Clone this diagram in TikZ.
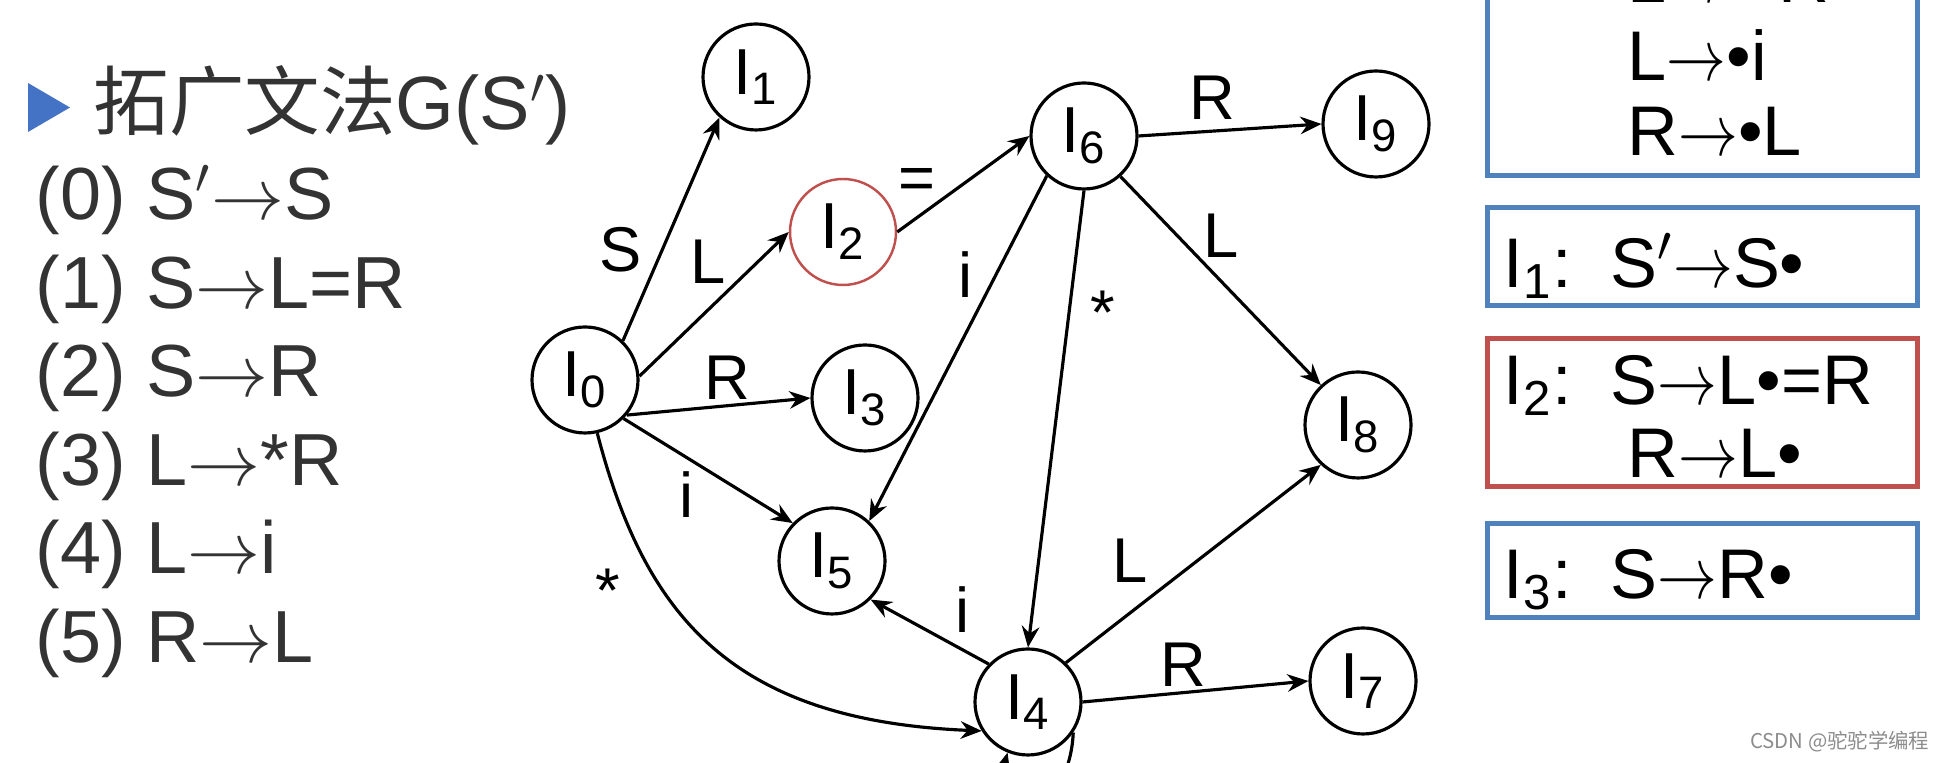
\documentclass[tikz,border=0pt]{standalone}
\usepackage{fontspec}
\usepackage{graphicx}
\setmainfont{Liberation Sans}
\newfontfamily\cjkfont{Noto Sans CJK SC}
\usetikzlibrary{arrows.meta}
\definecolor{itemBlue}{RGB}{79, 129, 189}
\definecolor{itemRed}{RGB}{192, 80, 77}
\definecolor{markBlue}{RGB}{68, 114, 196}
\newcommand{\prodarrow}{$\rightarrow$}
\newcommand{\itemarrow}{\scalebox{0.82}[1]{$\rightarrow$}}

\tikzset{
  state/.style={draw, circle, line width=0.9pt, minimum size=1.06cm, inner sep=0pt, font=\fontsize{18.5}{20}\selectfont},
  trans/.style={-{Stealth[length=6pt, width=5pt, inset=2pt]}, line width=0.9pt},
  sym/.style={inner sep=0pt, font=\fontsize{18}{20}\selectfont},
  itembox/.style={line width=1.45pt},
  rule/.style={anchor=base west, inner sep=0pt, text=black!80, font=\fontsize{21}{24}\selectfont},
  item/.style={anchor=base west, inner sep=0pt, font=\fontsize{20}{24}\selectfont},
}

\begin{document}
\begin{tikzpicture}
  \useasboundingbox (0,0) rectangle (19.37,7.63);
  \clip (0,0) rectangle (19.37,7.63);

  % augmented grammar
  \fill[markBlue] (0.28,6.80) -- (0.70,6.555) -- (0.28,6.31) -- cycle;
  \node[rule, font=\fontsize{21.5}{24}\selectfont] (title) at (0.93,6.33) {{\cjkfont 拓广文法}G(S$'$)};
  \node[rule] (g0) at (0.35,5.43) {(0) S$'$\prodarrow S};
  \node[rule] (g1) at (0.35,4.545) {(1) S\prodarrow L=R};
  \node[rule] (g2) at (0.35,3.66) {(2) S\prodarrow R};
  \node[rule] (g3) at (0.35,2.775) {(3) L\prodarrow*R};
  \node[rule] (g4) at (0.35,1.89) {(4) L\prodarrow i};
  \node[rule] (g5) at (0.35,1.00) {(5) R\prodarrow L};

  % states
  \node[state] (I0) at (5.85,3.83) {I\textsubscript{0}};
  \node[state] (I1) at (7.56,6.86) {I\textsubscript{1}};
  \node[state, draw=itemRed, line width=0.7pt] (I2) at (8.43,5.31) {I\textsubscript{2}};
  \node[state] (I3) at (8.65,3.65) {I\textsubscript{3}};
  \node[state] (I5) at (8.32,2.02) {I\textsubscript{5}};
  \node[state] (I4) at (10.28,0.61) {I\textsubscript{4}};
  \node[state] (I6) at (10.84,6.27) {I\textsubscript{6}};
  \node[state] (I9) at (13.76,6.39) {I\textsubscript{9}};
  \node[state] (I8) at (13.58,3.38) {I\textsubscript{8}};
  \node[state] (I7) at (13.63,0.82) {I\textsubscript{7}};

  % transitions
  \draw[trans] (I0.46) -- (I1.228);
  \draw[trans] (I0.4) -- (I2.180);
  \draw[trans] (I0.-40) -- (I3.180);
  \draw[trans] (I0.-45) -- (I5.136);
  \draw[trans] (I0.-77) .. controls +(0.48,-1.85) and +(-2.48,0.10) .. (I4.212);
  \draw[trans] (I2.0) -- (I6.180);
  \draw[trans] (I6.0) -- (I9.180);
  \draw[trans] (I6.-48) -- (I8.133);
  \draw[trans] (I6.227) -- (I5.47);
  \draw[trans] (I6.-90) -- (I4.90);
  \draw[trans] (I4.136) -- (I5.-45);
  \draw[trans] (I4.46) -- (I8.227);
  \draw[trans] (I4.0) -- (I7.180);
  \draw[trans] (I4.-34) .. controls +(-0.04,-0.9) and +(-0.25,-0.9) .. (I4.-112);

  % transition symbols
  \node[sym] (sS) at (6.21,5.13) {S};
  \node[sym] (sL) at (7.08,5.01) {L};
  \node[sym] (sEq) at (9.17,5.79) {=};
  \node[sym] (sR) at (7.27,3.85) {R};
  \node[sym] (si) at (6.87,2.68) {i};
  \node[sym] (sStar) at (6.08,1.72) {*};
  \node[sym] (si6) at (9.66,4.88) {i};
  \node[sym] (sStar6) at (11.03,4.50) {*};
  \node[sym] (sR6) at (12.12,6.65) {R};
  \node[sym] (sL6) at (12.21,5.27) {L};
  \node[sym] (sL4) at (11.30,2.02) {L};
  \node[sym] (sR4) at (11.83,0.98) {R};
  \node[sym] (si4) at (9.63,1.53) {i};

  % item sets
  \draw[itemBlue, itembox] (14.875,5.875) rectangle (19.175,8.30);
  \node[item] (a1) at (16.27,7.60) {L\itemarrow\textbullet*R};
  \node[item] (a2) at (16.27,6.82) {L\itemarrow\textbullet i};
  \node[item] (a3) at (16.27,6.07) {R\itemarrow\textbullet L};

  \draw[itemBlue, itembox] (14.875,5.555) rectangle (19.175,4.575);
  \node[item] (b0) at (15.03,4.75) {I\textsubscript{1}:};
  \node[item] (b1) at (16.10,4.75) {S$'$\itemarrow S\textbullet};

  \draw[itemRed, itembox] (14.875,4.245) rectangle (19.175,2.765);
  \node[item] (c0) at (15.03,3.58) {I\textsubscript{2}:};
  \node[item] (c1) at (16.10,3.58) {S\itemarrow L\textbullet=R};
  \node[item] (c2) at (16.27,2.85) {R\itemarrow L\textbullet};

  \draw[itemBlue, itembox] (14.875,2.395) rectangle (19.175,1.455);
  \node[item] (d0) at (15.03,1.64) {I\textsubscript{3}:};
  \node[item] (d1) at (16.10,1.64) {S\itemarrow R\textbullet};

  \node[anchor=east, inner sep=0pt, text=black!45, font=\cjkfont\fontsize{5.8}{7}\selectfont] (mark) at (19.30,0.21) {CSDN @驼驼学编程};
\end{tikzpicture}
\end{document}
